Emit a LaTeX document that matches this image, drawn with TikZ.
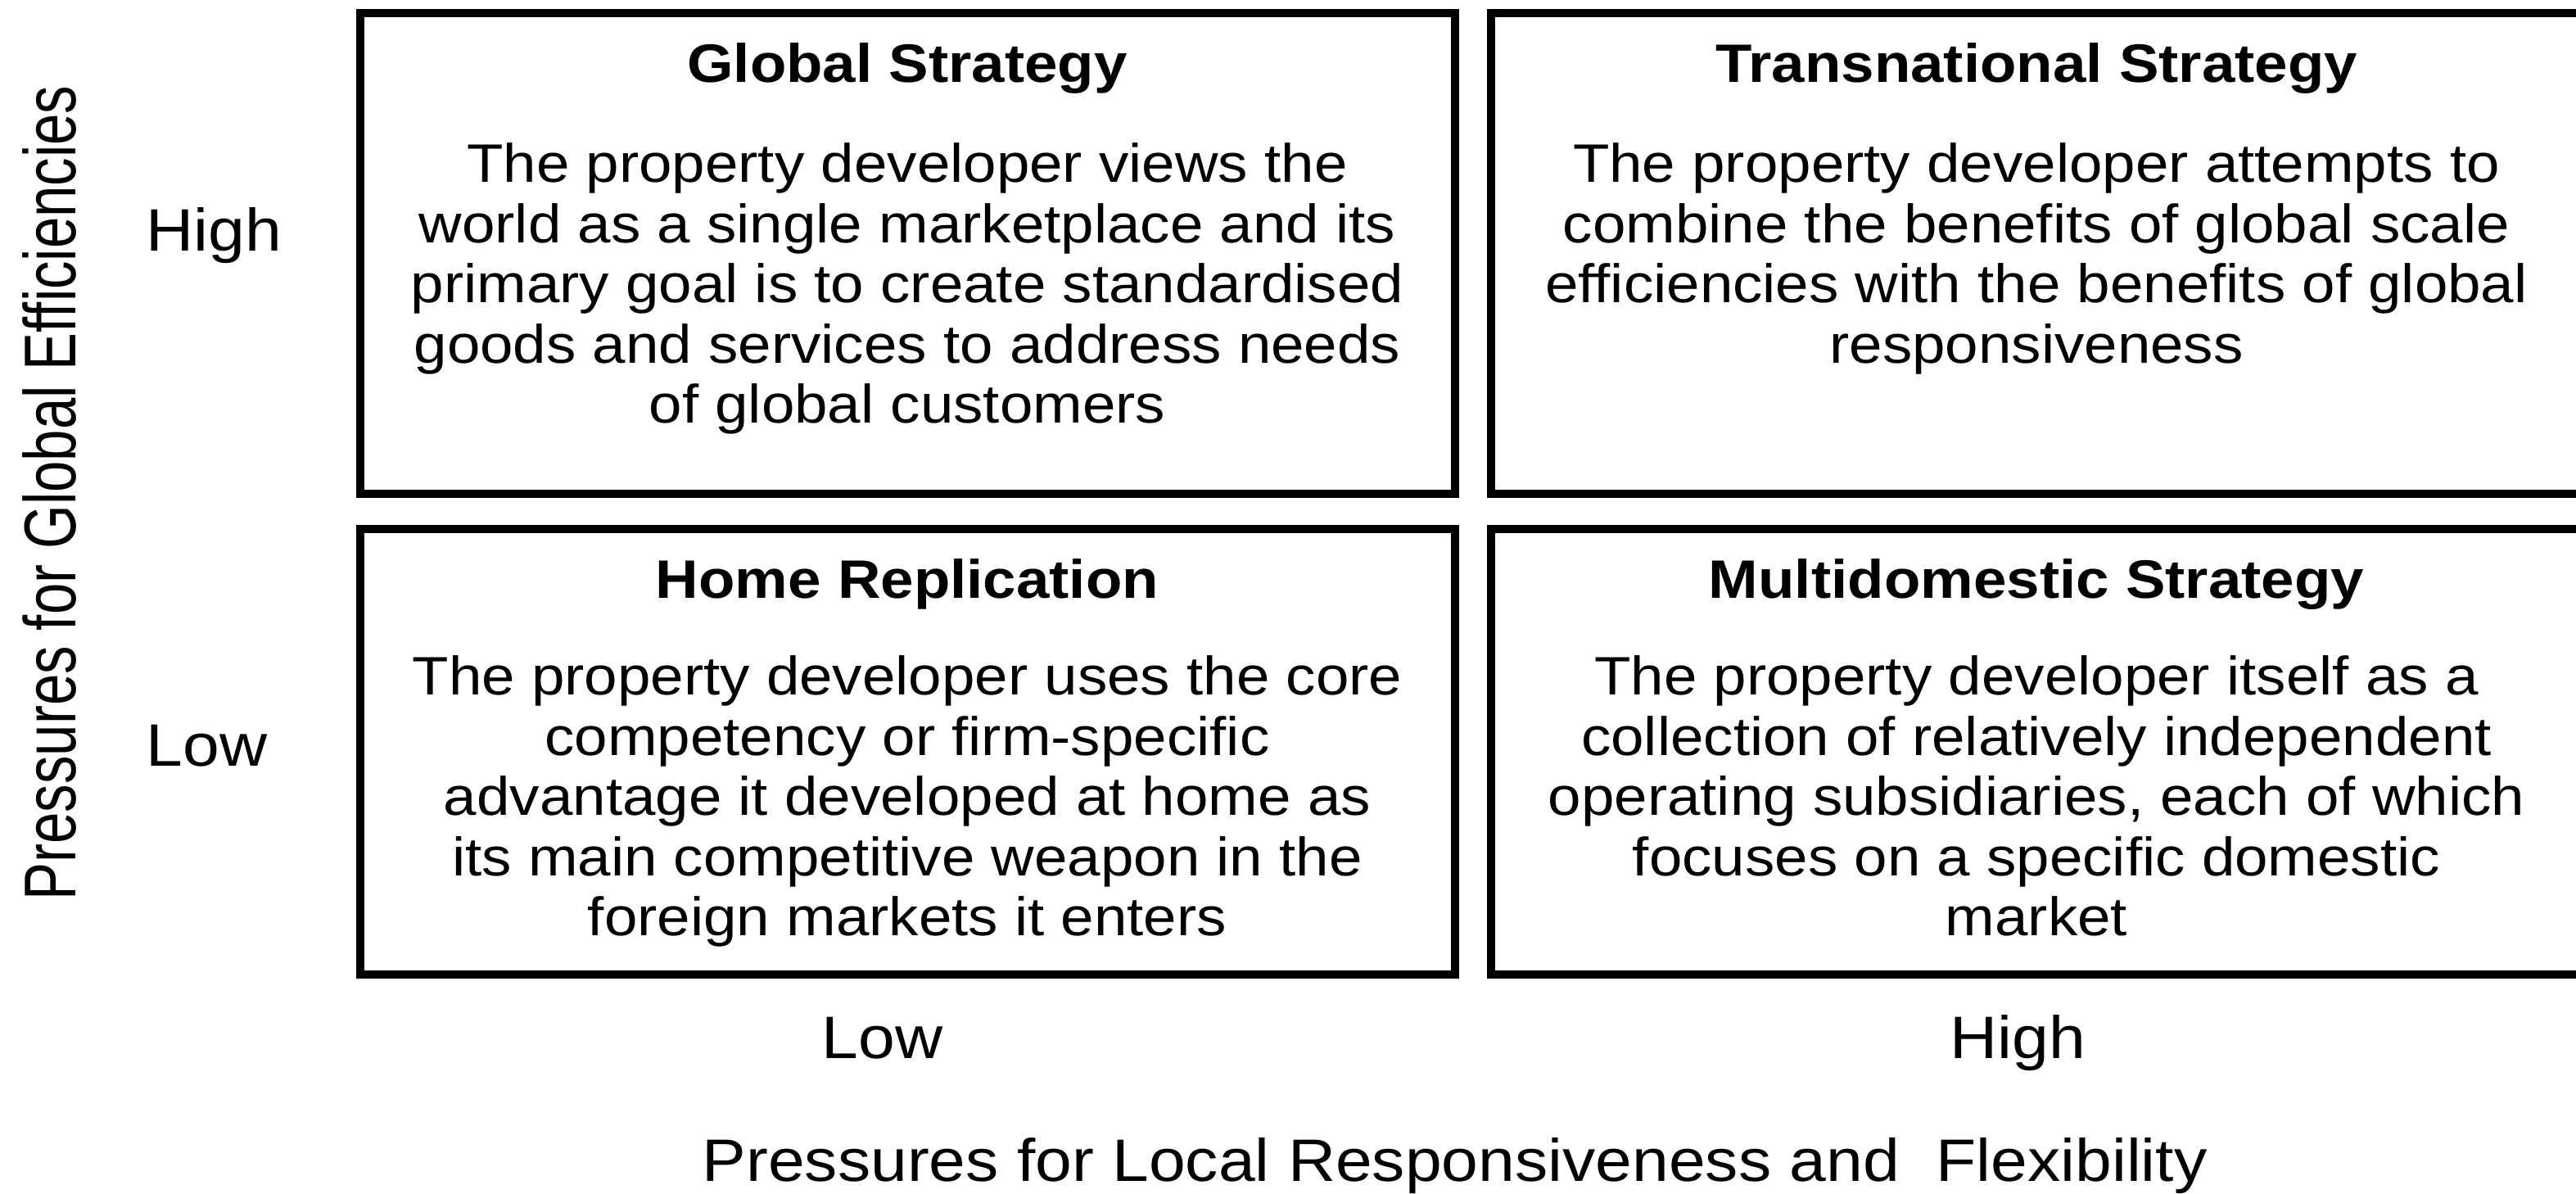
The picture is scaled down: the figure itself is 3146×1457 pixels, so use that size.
\documentclass[tikz,border=0pt]{standalone}
\usepackage{fontspec}
\setmainfont{Liberation Sans}[FakeStretch=1.1]
\newfontfamily\uprightsans{Liberation Sans}

\begin{document}
\begin{tikzpicture}[x=0.01cm, y=-0.01cm,
    quad/.style={draw=black, line width=2.6pt},
    heading/.style={anchor=base, inner sep=0pt, font=\fontsize{18.8}{20.9}\selectfont\bfseries},
    blurb/.style={anchor=north, inner sep=0pt, align=center, font=\fontsize{18.8}{20.9}\selectfont},
    axislabel/.style={anchor=base west, inner sep=0pt, font=\fontsize{20.8}{24}\selectfont}]

    \useasboundingbox[fill=white] (0,0) rectangle (3146,1457);

    % column and row edges of the grid
    \def\xa{440}  \def\xb{1777}
    \def\xc{1821} \def\xd{3153}
    \def\ya{16}   \def\yb{603}
    \def\yc{646}  \def\yd{1190}

    \draw[quad] (\xa,\ya) rectangle (\xb,\yb);
    \draw[quad] (\xc,\ya) rectangle (\xd,\yb);
    \draw[quad] (\xa,\yc) rectangle (\xb,\yd);
    \draw[quad] (\xc,\yc) rectangle (\xd,\yd);

    % top row
    \node[heading] (globalT) at (1108,100) {Global Strategy};
    \node[blurb] (globalB) at (1108,174) {The property developer views the\\
        world as a single marketplace and its\\
        primary goal is to create standardised\\
        goods and services to address needs\\
        of global customers};

    \node[heading] (transT) at (2487,100) {Transnational Strategy};
    \node[blurb] (transB) at (2487,174) {The property developer attempts to\\
        combine the benefits of global scale\\
        efficiencies with the benefits of global\\
        responsiveness};

    % bottom row
    \node[heading] (homeT) at (1108,730) {Home Replication};
    \node[blurb] (homeB) at (1108,800) {The property developer uses the core\\
        competency or firm-specific\\
        advantage it developed at home as\\
        its main competitive weapon in the\\
        foreign markets it enters};

    \node[heading] (multiT) at (2487,730) {Multidomestic Strategy};
    \node[blurb] (multiB) at (2487,800) {The property developer itself as a\\
        collection of relatively independent\\
        operating subsidiaries, each of which\\
        focuses on a specific domestic\\
        market};

    % axes
    \node[axislabel] (effHigh) at (178,306) {High};
    \node[axislabel] (effLow) at (178,935) {Low};
    \node[rotate=90, yscale=1.3, anchor=base, inner sep=0pt,
        font=\uprightsans\fontsize{19.6}{22}\selectfont] (effTitle) at (92,602)
        {Pressures for Global Efficiencies};

    \node[axislabel] (locLow) at (1003,1292) {Low};
    \node[axislabel] (locHigh) at (2381,1292) {High};
    \node[axislabel] (locTitle) at (857,1442) {Pressures for Local Responsiveness and\ \ Flexibility};
\end{tikzpicture}
\end{document}
